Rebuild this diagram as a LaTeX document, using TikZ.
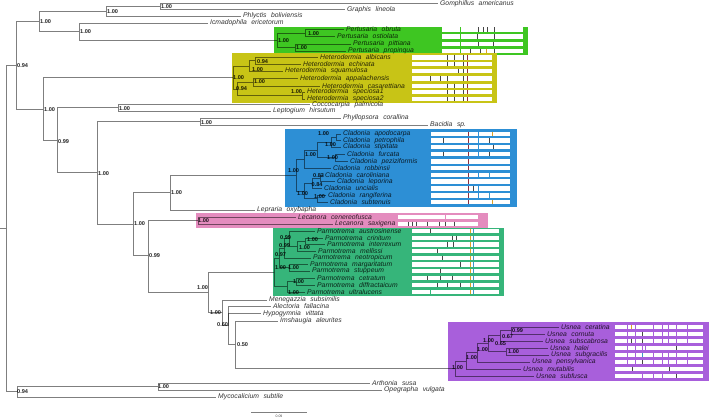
\documentclass[tikz,border=0pt]{standalone}
\usepackage{fontspec}
\setmainfont{Liberation Sans}
\newfontfamily\taxf[WordSpace=2.4]{Liberation Sans}
\definecolor{pertG}{RGB}{62,198,34}
\definecolor{hetY}{RGB}{200,196,22}
\definecolor{cladB}{RGB}{45,143,213}
\definecolor{lecP}{RGB}{228,140,190}
\definecolor{parmG}{RGB}{54,181,122}
\definecolor{usnP}{RGB}{168,95,219}
\definecolor{tkD}{RGB}{70,70,70}
\definecolor{tkR}{RGB}{140,45,60}
\definecolor{tkO}{RGB}{220,160,40}
\definecolor{tkC}{RGB}{60,150,200}
\tikzset{
  br/.style={draw=black, draw opacity=0.5, line width=0.7pt},
  tx/.style={anchor=west, inner sep=0pt, font=\taxf\itshape\fontsize{6.8}{7}\selectfont, text=black, text opacity=0.8},
  supp/.style={anchor=west, inner sep=0pt, font=\bfseries\fontsize{5.6}{6}\selectfont, text=black, text opacity=0.85}
}
\newcommand\txn[4]{\node[tx] (#1) at (#2,#3) {#4};}
\newcommand\tedge[2]{\draw[br] (#1) |- (#2);}
\newcommand\tleaf[2]{\draw[br] (#1) |- ([xshift=-2pt]#2.west);}
\newcommand\rbar[3]{\fill[white] (#1,#3-2.1) rectangle (#2,#3+2.1);}
\newcommand\tks[3]{\foreach \xx in {#2} {\draw[#3,line width=0.6pt] (\xx,#1-2.4) -- (\xx,#1+2.4);}}
\begin{document}
\begin{tikzpicture}[x=1pt,y=-1pt]
\useasboundingbox (0,0) rectangle (709,418);
% ---------- coloured boxes
\fill[pertG] (274,27) rectangle (528,55);
\fill[hetY] (232,53) rectangle (497,102.5);
\fill[cladB] (285,129) rectangle (517,207);
\fill[lecP] (196,213) rectangle (488,227.5);
\fill[parmG] (273,227.5) rectangle (504,295.5);
\fill[usnP] (448,322) rectangle (709,381);
% ---------- character bars
% Pertusaria
\foreach \yy in {29.5,36.5,44,51} {\rbar{442}{523}{\yy}}
\tks{29.5}{460}{pertG}\tks{29.5}{478,483,487,494}{tkD}
\tks{36.5}{460}{pertG}\tks{36.5}{477,494}{tkD}
\tks{44}{460}{pertG}\tks{44}{478,493}{tkD}
\tks{51}{460}{pertG}\tks{51}{470,480,494}{tkD}\tks{51}{486}{tkO}
% Heterodermia
\foreach \yy in {57.5,64,71,78.5,86,92,99} {\rbar{412}{492}{\yy}}
\foreach \yy in {57.5,64,86,92,99} {\tks{\yy}{447,454,463}{tkD}\tks{\yy}{467}{tkR}}
\tks{71}{458,463}{tkD}\tks{71}{467}{tkR}
\tks{78.5}{430,440,447,463}{tkD}\tks{78.5}{467}{tkR}
% Cladonia
\foreach \yy in {134,140.5,147,154,161.5,168,175,181.5,188.5,195.5,202} {\rbar{431}{510}{\yy}\tks{\yy}{468}{tkR}}
\foreach \yy in {134,140.5,147,154,175,188.5,195.5} {\tks{\yy}{478}{cladB}}
\tks{134}{492}{tkO}\tks{140.5}{443,489}{tkD}\tks{147}{493}{tkD}\tks{154}{443,489}{tkD}
\tks{175}{489}{tkC}\tks{188.5}{473}{tkD}\tks{195.5}{489}{tkC}\tks{202}{492}{tkO}
% Lecanora
\foreach \yy in {217,224} {\rbar{398}{478}{\yy}}
\tks{217}{445}{lecP}
\tks{224}{408,412,416,427,439,445,454}{tkD}
% Parmotrema
\foreach \yy in {231,238,244.5,251,258,264.5,271,278,285,292} {\rbar{412}{499}{\yy}\tks{\yy}{470}{tkO}\tks{\yy}{473}{tkC}}
\tks{231}{430}{tkD}\tks{238}{452,456}{tkD}\tks{244.5}{447,453}{tkD}\tks{251}{437}{tkD}
\tks{258}{442}{tkD}\tks{264.5}{460}{tkD}\tks{271}{440}{tkD}\tks{278}{427,440,452}{tkD}
\tks{285}{437,447,460}{tkD}\tks{292}{430}{parmG}
% Usnea
\foreach \yy in {327,334,341,348,355,362,369,376} {\rbar{615}{703}{\yy}}
\foreach \yy in {327,334,341,355,362} {\tks{\yy}{627,635,653,662,668,676,687}{usnP}}
\tks{327}{631}{tkO}\tks{334}{642}{tkD}\tks{341}{631,642}{tkD}\tks{355}{642}{tkC}\tks{362}{642}{tkD}
\tks{348}{627,635,642,645}{usnP}\tks{348}{676}{tkD}
\tks{369}{632,669}{tkD}
\tks{376}{642,653,662}{usnP}\tks{376}{676}{tkD}
% ---------- taxa
\txn{gom}{440}{3.8}{Gomphillus americanus}
\txn{gra}{347}{9.5}{Graphis lineola}
\txn{phl}{243}{16}{Phlyctis boliviensis}
\txn{icm}{210}{23}{Icmadophila ericetorum}
\txn{pob}{346}{29.5}{Pertusaria obruta}
\txn{pos}{337}{36.5}{Pertusaria ostiolata}
\txn{ppi}{353}{44}{Pertusaria pittiana}
\txn{ppr}{348}{51}{Pertusaria propinqua}
\txn{hal}{320}{57.5}{Heterodermia albicans}
\txn{hec}{303}{64}{Heterodermia echinata}
\txn{hsq}{285}{71}{Heterodermia squamulosa}
\txn{hap}{300}{78.5}{Heterodermia appalachensis}
\txn{hca}{322}{86}{Heterodermia casarettiana}
\txn{hsa}{307}{92}{Heterodermia speciosa1}
\txn{hsb}{307}{99}{Heterodermia speciosa2}
\txn{coc}{312}{104.5}{Coccocarpia palmicola}
\txn{lep}{273}{111}{Leptogium hirsutum}
\txn{phy}{343}{118}{Phyllopsora corallina}
\txn{bac}{430}{125}{Bacidia sp.}
\txn{cap}{343}{134}{Cladonia apodocarpa}
\txn{cpe}{343}{140.5}{Cladonia petrophila}
\txn{cst}{343}{147}{Cladonia stipitata}
\txn{cfu}{347}{154}{Cladonia furcata}
\txn{cpz}{350}{161.5}{Cladonia peziziformis}
\txn{cro}{333}{168}{Cladonia robbinsii}
\txn{cca}{325}{175}{Cladonia caroliniana}
\txn{cle}{337}{181.5}{Cladonia leporina}
\txn{cun}{324}{188.5}{Cladonia uncialis}
\txn{cra}{328}{195.5}{Cladonia rangiferina}
\txn{csu}{330}{202}{Cladonia subtenuis}
\txn{lox}{257}{210}{Lepraria oxybapha}
\txn{lce}{298}{217}{Lecanora cenereofusca}
\txn{lsa}{335}{224}{Lecanora saxigena}
\txn{pau}{317}{231}{Parmotrema austrosinense}
\txn{pcr}{325}{238}{Parmotrema crinitum}
\txn{pin}{327}{244.5}{Parmotrema interrexum}
\txn{pme}{318}{251}{Parmotrema mellissi}
\txn{pne}{313}{258}{Parmotrema neotropicum}
\txn{pma}{310}{264.5}{Parmotrema margaritatum}
\txn{pst}{312}{271}{Parmotrema stuppeum}
\txn{pce}{317}{278}{Parmotrema cetratum}
\txn{pdi}{317}{285}{Parmotrema diffractaicum}
\txn{pul}{307}{292}{Parmotrema ultralucens}
\txn{men}{269}{300}{Menegazzia subsimilis}
\txn{ale}{273}{306.5}{Alectoria fallacina}
\txn{hyp}{263}{313.5}{Hypogymnia vittata}
\txn{ims}{280}{321}{Imshaugia aleurites}
\txn{uce}{561}{327}{Usnea ceratina}
\txn{uco}{547}{334}{Usnea cornuta}
\txn{usc}{545}{341}{Usnea subscabrosa}
\txn{uha}{550}{348}{Usnea halei}
\txn{usg}{551}{355}{Usnea subgracilis}
\txn{upe}{532}{362}{Usnea pensylvanica}
\txn{umu}{523}{369}{Usnea mutabilis}
\txn{usf}{536}{376}{Usnea subfusca}
\txn{art}{372}{383}{Arthonia susa}
\txn{ope}{384}{390}{Opegrapha vulgata}
\txn{myc}{218}{397}{Mycocalicium subtile}
% ---------- internal nodes
\coordinate (rs) at (0,228.5);
\coordinate (root) at (6,228.5);
\coordinate (ing) at (16,65.5);
\coordinate (outg) at (17,391.75);
\coordinate (ao) at (158,386.5);
\coordinate (top) at (39,21.5);
\coordinate (gp) at (106,11.25);
\coordinate (gg) at (160,6.6);
\coordinate (ip) at (79,31.6);
\coordinate (pert) at (277,40.25);
\coordinate (Pa) at (305,33);
\coordinate (Pb) at (295,47.5);
\coordinate (big) at (43,109.5);
\coordinate (het) at (233,77.4);
\coordinate (Ha) at (249,65.9);
\coordinate (Hb) at (255,60.75);
\coordinate (Hc) at (237,88.9);
\coordinate (Hd) at (253,82.25);
\coordinate (He) at (302,95.5);
\coordinate (nA) at (57,140.6);
\coordinate (cl) at (118,107.75);
\coordinate (nB) at (97,172.75);
\coordinate (pb) at (200,121.5);
\coordinate (nC) at (133,223.9);
\coordinate (nD) at (170,192.25);
\coordinate (nE) at (148,255.75);
\coordinate (clad) at (296,175.3);
\coordinate (CB) at (304,159);
\coordinate (CA) at (317,149.9);
\coordinate (Cst) at (331,142);
\coordinate (Cap) at (336,137.25);
\coordinate (Cfu) at (335,157.75);
\coordinate (CC) at (304,191.5);
\coordinate (Cun) at (312,183.4);
\coordinate (Cca) at (320,178.25);
\coordinate (Cra) at (317,198.75);
\coordinate (lec) at (198,220.5);
\coordinate (nF) at (208,292.5);
\coordinate (parm) at (274,272.4);
\coordinate (Pj) at (279,258);
\coordinate (Pi) at (284,248.3);
\coordinate (Ph) at (289,238.55);
\coordinate (Pg) at (297,246.1);
\coordinate (Pf) at (305,241.25);
\coordinate (Pk) at (289,267.75);
\coordinate (Pm) at (287,286.75);
\coordinate (Pl) at (296,281.5);
\coordinate (nG) at (222,312.75);
\coordinate (nH) at (228,325.5);
\coordinate (nI) at (235,344.5);
\coordinate (Ur) at (455,368.45);
\coordinate (Ua) at (466,360.9);
\coordinate (Ub) at (477,352.8);
\coordinate (Uc) at (488,343.6);
\coordinate (Ud) at (500,335.75);
\coordinate (Ue) at (511,330.5);
\coordinate (Uf) at (506,351.5);
% ---------- branches
\draw[br] (rs) -- (root);
\tedge{root}{ing}\tedge{root}{outg}
\tedge{outg}{ao}\tleaf{outg}{myc}\tleaf{ao}{art}\tleaf{ao}{ope}
\tedge{ing}{top}\tedge{ing}{big}
\tedge{top}{gp}\tedge{top}{ip}
\tedge{gp}{gg}\tleaf{gp}{phl}\tleaf{gg}{gom}\tleaf{gg}{gra}
\tleaf{ip}{icm}\tedge{ip}{pert}
\tedge{pert}{Pa}\tedge{pert}{Pb}
\tleaf{Pa}{pob}\tleaf{Pa}{pos}\tleaf{Pb}{ppi}\tleaf{Pb}{ppr}
\tedge{big}{het}\tedge{big}{nA}
\tedge{het}{Ha}\tedge{het}{Hc}
\tedge{Ha}{Hb}\tleaf{Ha}{hsq}\tleaf{Hb}{hal}\tleaf{Hb}{hec}
\tedge{Hc}{Hd}\tedge{Hc}{He}\tleaf{Hd}{hap}\tleaf{Hd}{hca}\tleaf{He}{hsa}\tleaf{He}{hsb}
\tedge{nA}{cl}\tedge{nA}{nB}\tleaf{cl}{coc}\tleaf{cl}{lep}
\tedge{nB}{pb}\tedge{nB}{nC}\tleaf{pb}{phy}\tleaf{pb}{bac}
\tedge{nC}{nD}\tedge{nC}{nE}
\tedge{nD}{clad}\tleaf{nD}{lox}
\tedge{clad}{CB}\tedge{clad}{CC}
\tedge{CB}{CA}\tleaf{CB}{cro}
\tedge{CA}{Cst}\tedge{CA}{Cfu}
\tedge{Cst}{Cap}\tleaf{Cst}{cst}\tleaf{Cap}{cap}\tleaf{Cap}{cpe}
\tleaf{Cfu}{cfu}\tleaf{Cfu}{cpz}
\tedge{CC}{Cun}\tedge{CC}{Cra}
\tedge{Cun}{Cca}\tleaf{Cun}{cun}\tleaf{Cca}{cca}\tleaf{Cca}{cle}
\tleaf{Cra}{cra}\tleaf{Cra}{csu}
\tedge{nE}{lec}\tedge{nE}{nF}\tleaf{lec}{lce}\tleaf{lec}{lsa}
\tedge{nF}{parm}\tedge{nF}{nG}
\tedge{parm}{Pj}\tedge{parm}{Pm}
\tedge{Pj}{Pi}\tedge{Pj}{Pk}
\tedge{Pi}{Ph}\tleaf{Pi}{pne}
\tleaf{Ph}{pau}\tedge{Ph}{Pg}
\tedge{Pg}{Pf}\tleaf{Pg}{pme}\tleaf{Pf}{pcr}\tleaf{Pf}{pin}
\tleaf{Pk}{pma}\tleaf{Pk}{pst}
\tedge{Pm}{Pl}\tleaf{Pm}{pul}\tleaf{Pl}{pce}\tleaf{Pl}{pdi}
\tleaf{nG}{men}\tedge{nG}{nH}
\tleaf{nH}{ale}\tleaf{nH}{hyp}\tedge{nH}{nI}
\tleaf{nI}{ims}\tedge{nI}{Ur}
\tedge{Ur}{Ua}\tleaf{Ur}{usf}
\tedge{Ua}{Ub}\tleaf{Ua}{umu}
\tedge{Ub}{Uc}\tleaf{Ub}{upe}
\tedge{Uc}{Ud}\tedge{Uc}{Uf}
\tedge{Ud}{Ue}\tleaf{Ud}{usc}\tleaf{Ue}{uce}\tleaf{Ue}{uco}
\tleaf{Uf}{uha}\tleaf{Uf}{usg}
% ---------- support values
\node[supp] (s01) at (17,66) {0.94};
\node[supp] (s02) at (40,21.5) {1.00};
\node[supp] (s03) at (107,11.5) {1.00};
\node[supp] (s04) at (161,6.5) {1.00};
\node[supp] (s05) at (80,32) {1.00};
\node[supp] (s06) at (278,40.5) {1.00};
\node[supp] (s07) at (308,34) {1.00};
\node[supp] (s08) at (296,48) {1.00};
\node[supp] (s09) at (257,61.5) {0.94};
\node[supp] (s10) at (252,69.5) {1.00};
\node[supp] (s11) at (233,78) {1.00};
\node[supp] (s12) at (254,81.5) {1.00};
\node[supp] (s13) at (236,88.5) {0.94};
\node[supp] (s14) at (291,92) {1.00};
\node[supp] (s15) at (44,109.5) {1.00};
\node[supp] (s16) at (119,109) {1.00};
\node[supp] (s17) at (58,141.5) {0.99};
\node[supp] (s18) at (201,123) {1.00};
\node[supp] (s19) at (98,173.5) {1.00};
\node[supp] (s20) at (171,192.5) {1.00};
\node[supp] (s21) at (134,224) {1.00};
\node[supp] (s22) at (149,256) {0.99};
\node[supp] (s23) at (198,220.5) {1.00};
\node[supp] (s24) at (197,287.5) {1.00};
\node[supp] (s25) at (210,313) {1.00};
\node[supp] (s26) at (217,325) {0.60};
\node[supp] (s27) at (237,345) {0.50};
\node[supp] (s28) at (17,392) {0.94};
\node[supp] (s29) at (158,386.5) {1.00};
\node[supp] (s30) at (318,134) {1.00};
\node[supp] (s31) at (325,145) {1.00};
\node[supp] (s32) at (305,154.5) {1.00};
\node[supp] (s33) at (327,158) {1.00};
\node[supp] (s34) at (288,170.5) {1.00};
\node[supp] (s35) at (313,175.5) {0.83};
\node[supp] (s36) at (311.5,184.5) {0.84};
\node[supp] (s37) at (297,193.5) {1.00};
\node[supp] (s38) at (314,197) {1.00};
\node[supp] (s39) at (280,238) {0.99};
\node[supp] (s40) at (279,246) {0.99};
\node[supp] (s41) at (307,240) {1.00};
\node[supp] (s42) at (299,248) {1.00};
\node[supp] (s43) at (275,255) {0.97};
\node[supp] (s44) at (275,268) {1.00};
\node[supp] (s45) at (288,268) {1.00};
\node[supp] (s46) at (293,282) {1.00};
\node[supp] (s47) at (288,293) {1.00};
\node[supp] (s48) at (452,368) {1.00};
\node[supp] (s49) at (466,358) {1.00};
\node[supp] (s50) at (477,350) {1.00};
\node[supp] (s51) at (483,341) {1.00};
\node[supp] (s52) at (495,344) {0.65};
\node[supp] (s53) at (502,337) {0.67};
\node[supp] (s54) at (512,331) {0.99};
\node[supp] (s55) at (508,352) {1.00};
% ---------- scale bar
\coordinate (sb1) at (251,412);
\coordinate (sb2) at (307,412);
\draw[br] (sb1) -- (sb2);
\node[inner sep=0pt, font=\fontsize{3.5}{4}\selectfont, text opacity=0.7] (sbl) at (279,416) {0.09};
\end{tikzpicture}
\end{document}
